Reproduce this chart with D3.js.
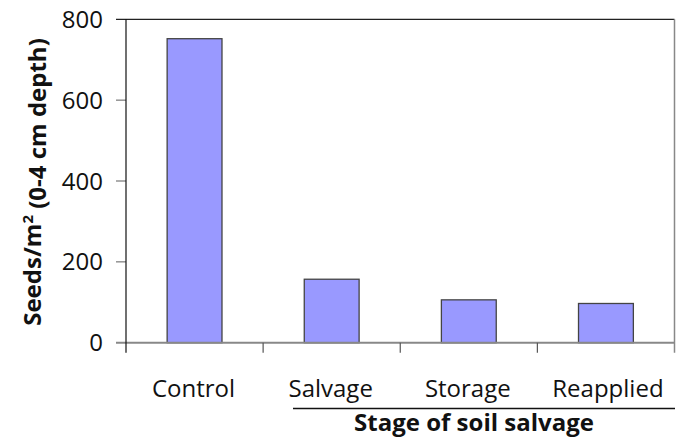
<!DOCTYPE html>
<html><head><meta charset="utf-8">
<script src="https://cdn.jsdelivr.net/npm/d3@7"></script>
<style>body{margin:0;background:#fff}svg{display:block}text{font-family:"Open Sans",sans-serif;fill:#111}</style>
</head><body>
<svg id="c" width="685" height="441"></svg>
<script>
const categories = ["Control","Salvage","Storage","Reapplied"];
const values = [752, 157, 106, 97];
const yTicks = [0,200,400,600,800];
const yTitle = "Seeds/m";
const yTitleSup = "2";
const yTitleRest = " (0-4 cm depth)";
const xTitle = "Stage of soil salvage";

const svg = d3.select("#c");
const L=126, R=674.5, T=19.3, B=342.7;
const x = d3.scaleBand().domain(categories).range([L,R]).paddingInner(0.6).paddingOuter(0.3);
const xb = d3.scaleBand().domain(categories).range([L,R]).padding(0);
const y = d3.scaleLinear().domain([0,800]).range([B,T]);

// frame: top border and right border
svg.append("line").attr("x1",116).attr("x2",R).attr("y1",y(800)).attr("y2",y(800)).attr("stroke","#222").attr("stroke-width",1.2);
svg.append("line").attr("x1",R).attr("x2",R).attr("y1",y(800)).attr("y2",B+10).attr("stroke","#888").attr("stroke-width",1.5);

// y ticks
yTicks.forEach(t=>{
  if(t>0 && t<800) svg.append("line").attr("x1",116).attr("x2",L).attr("y1",y(t)).attr("y2",y(t)).attr("stroke","#777").attr("stroke-width",1.2);
  svg.append("text").attr("x",103).attr("y",y(t)).attr("dy","0.36em").attr("text-anchor","end").attr("font-size",24).text(t);
});

// bars
svg.selectAll("rect.bar").data(categories).enter().append("rect")
  .attr("x",d=>x(d)).attr("width",x.bandwidth())
  .attr("y",(d,i)=>y(values[i])).attr("height",(d,i)=>y(0)-y(values[i]))
  .attr("fill","#9999FF").attr("stroke","#444").attr("stroke-width",1.3);

// zero line
svg.append("line").attr("x1",116).attr("x2",R).attr("y1",B).attr("y2",B).attr("stroke","#888").attr("stroke-width",2);
// y axis line
svg.append("line").attr("x1",L).attr("x2",L).attr("y1",T).attr("y2",B+10).attr("stroke","#111").attr("stroke-width",1.2);
// x ticks between categories
categories.slice(1).forEach(c=>{
  svg.append("line").attr("x1",xb(c)).attr("x2",xb(c)).attr("y1",B).attr("y2",B+10).attr("stroke","#555").attr("stroke-width",1.2);
});

// x labels
svg.selectAll("text.xl").data(categories).enter().append("text")
  .attr("x",d=>xb(d)+xb.bandwidth()/2+ (d==="Reapplied"?2:-1)).attr("y",397).attr("text-anchor","middle").attr("font-size",24).text(d=>d);

// group underline
svg.append("line").attr("x1",293).attr("x2",675).attr("y1",408.5).attr("y2",408.5).attr("stroke","#111").attr("stroke-width",1.3);
svg.append("text").attr("x",474).attr("y",431).attr("text-anchor","middle").attr("font-size",24).attr("font-weight","bold").text(xTitle);

// y title
const yt = svg.append("text").attr("transform","translate(41,182) rotate(-90)").attr("text-anchor","middle").attr("font-size",24).attr("font-weight","bold");
yt.append("tspan").text(yTitle);
yt.append("tspan").attr("dy","-0.55em").attr("font-size",15).text(yTitleSup);
yt.append("tspan").attr("dy","0.55em").text(yTitleRest);
</script>
</body></html>
